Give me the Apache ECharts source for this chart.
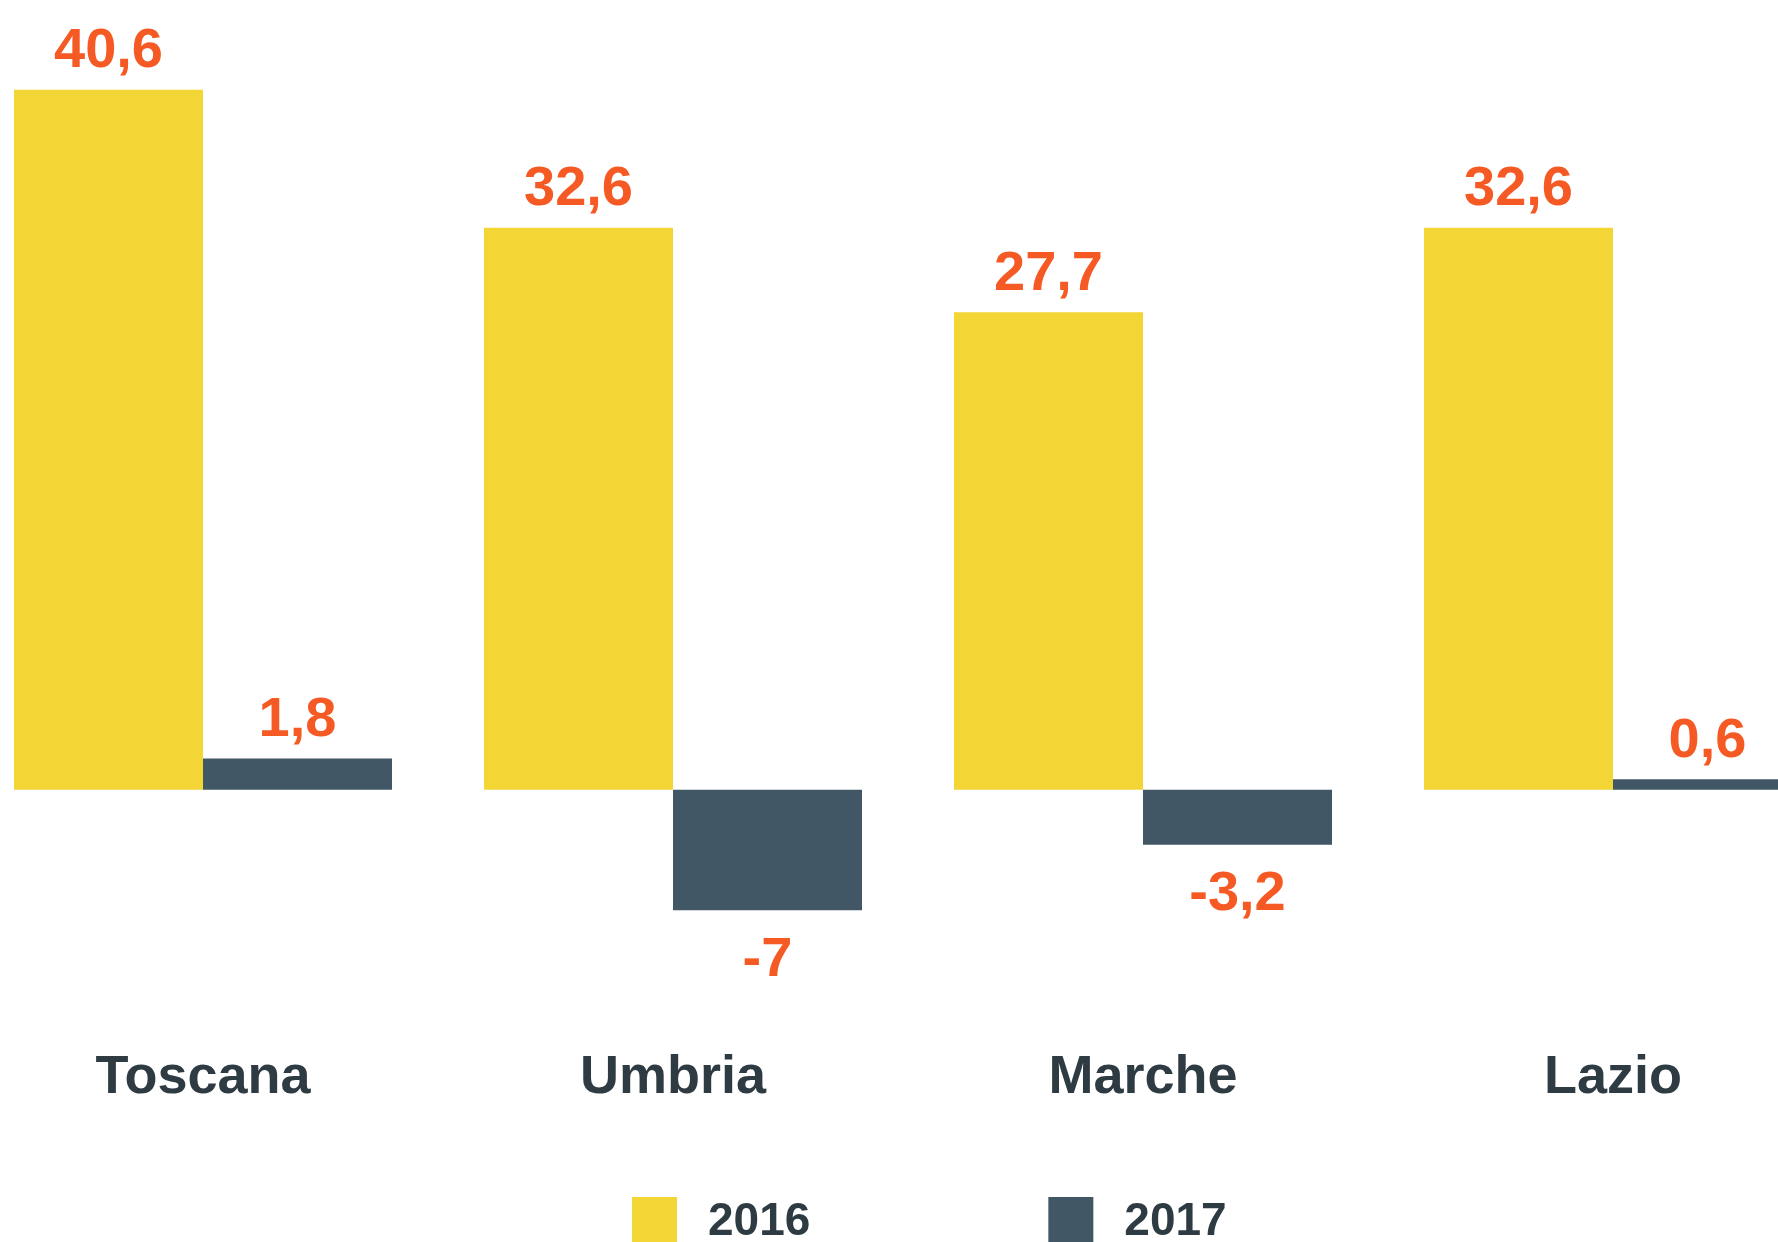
<!DOCTYPE html>
<html>
<head>
<meta charset="utf-8">
<script src="https://cdn.jsdelivr.net/npm/echarts@6/dist/echarts.min.js"></script>
<style>
  html, body { margin: 0; padding: 0; background: #fff; overflow: hidden; }
  /* chart is wider than the page: first group starts near the left edge, last one is cut on the right */
  #chart { width: 1880px; height: 1242px; margin-left: -32px; }
</style>
</head>
<body>
<div id="chart"></div>
<script>
// regioni e valori (%)
var regions = ["Toscana", "Umbria", "Marche", "Lazio"];
var years = ["2016", "2017"];
var values2016 = [40.6, 32.6, 27.7, 32.6];
var values2017 = [1.8, -7, -3.2, 0.6];

var yellow = "#f3d536";
var slate = "#415766";
var orange = "#f65a24";
var textDark = "#2e3b43";
var font = '"Liberation Sans", Arial, sans-serif';

function toItems(arr) {
  return arr.map(function (v) {
    if (v < 0) return { value: v, label: { position: "bottom", distance: 22 } };
    return { value: v, label: { position: "top" } };
  });
}

var labelStyle = {
  show: true,
  distance: 10,
  color: orange,
  fontFamily: font,
  fontWeight: "bold",
  fontSize: 56,
  lineHeight: 56,
  formatter: function (p) { return String(p.value).replace(".", ","); }
};

var chart = echarts.init(document.getElementById("chart"));
chart.setOption({
  animation: false,
  grid: { left: 0, right: 0, top: 14, bottom: 280 },
  legend: {
    data: years,
    left: 659,
    top: 1192,
    icon: "rect",
    itemWidth: 45,
    itemHeight: 50,
    itemGap: 238,
    textStyle: {
      color: textDark,
      fontFamily: font,
      fontWeight: "bold",
      fontSize: 46,
      padding: [0, 0, 0, 26]
    }
  },
  xAxis: {
    type: "category",
    data: regions,
    axisLine: { show: false, onZero: false },
    axisTick: { show: false },
    axisLabel: {
      margin: 89,
      color: textDark,
      fontFamily: font,
      fontWeight: "bold",
      fontSize: 54
    }
  },
  yAxis: {
    type: "value",
    min: -10,
    max: 45,
    show: false,
    splitLine: { show: false }
  },
  series: [
    {
      name: years[0],
      type: "bar",
      barWidth: 189,
      barGap: "0%",
      itemStyle: { color: yellow },
      label: labelStyle,
      data: toItems(values2016)
    },
    {
      name: years[1],
      type: "bar",
      barWidth: 189,
      barGap: "0%",
      itemStyle: { color: slate },
      label: labelStyle,
      data: toItems(values2017)
    }
  ]
});
</script>
</body>
</html>
